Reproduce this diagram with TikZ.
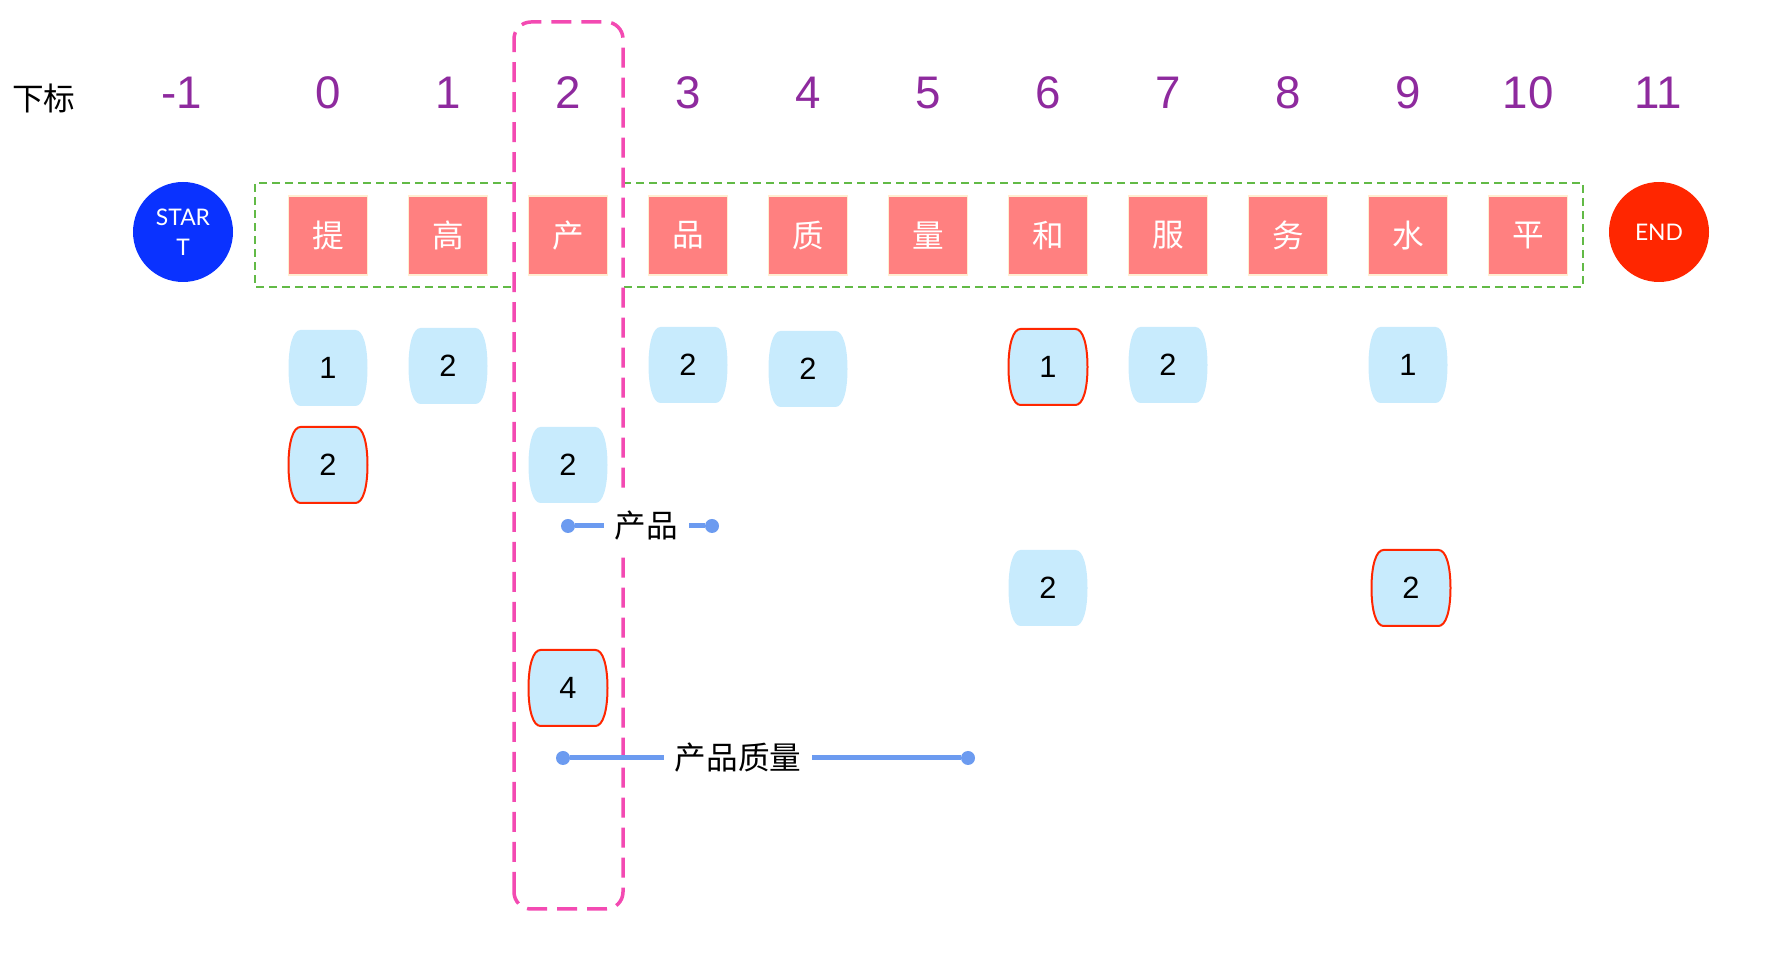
\documentclass[tikz,border=0pt]{standalone}
\usepackage{fontspec}
\setmainfont{Liberation Sans}
\newfontfamily\cjk{Noto Sans CJK SC}
\newfontfamily\lato{Lato}

\definecolor{idxpurple}{RGB}{142,42,158}
\definecolor{charred}{RGB}{255,128,128}
\definecolor{charedge}{RGB}{255,238,210}
\definecolor{startblue}{RGB}{10,50,255}
\definecolor{endred}{RGB}{255,38,0}
\definecolor{cellblue}{RGB}{200,235,253}
\definecolor{hitred}{RGB}{255,38,0}
\definecolor{groupgreen}{RGB}{98,186,70}
\definecolor{colpink}{RGB}{243,74,178}
\definecolor{barblue}{RGB}{108,155,240}

\tikzset{
  idx/.style={text=idxpurple, font=\fontsize{26}{30}\selectfont},
  charbox/.style={draw=charedge, line width=0.03cm, fill=charred, text=white,
    minimum size=1.58cm, inner sep=0pt, font=\cjk\fontsize{18}{22}\selectfont},
  terminal/.style={circle, minimum size=2cm, inner sep=0pt, text=white,
    align=center, font=\lato\fontsize{13}{17}\selectfont},
  cell/.style={minimum width=1.58cm, minimum height=1.52cm, inner sep=0pt,
    font=\fontsize{17.5}{20}\selectfont},
  hit/.style={draw=hitred, line width=0.04cm},
  groupline/.style={draw=groupgreen, line width=0.04cm, dash pattern=on 0.16cm off 0.1cm},
  colline/.style={draw=colpink, line width=0.07cm, dash pattern=on 0.4cm off 0.2cm,
    rounded corners=0.34cm},
  dot/.style={circle, fill=barblue, minimum size=0.28cm, inner sep=0pt},
  bar/.style={draw=barblue, line width=0.1cm},
  barlabel/.style={fill=white, text=black, minimum height=1.2cm, inner xsep=0.22cm,
    font=\cjk\fontsize{18}{22}\selectfont},
}

% barrel shaped length box: name, x, y, text, border
\newcommand{\lenbox}[5]{%
  \filldraw[fill=cellblue, draw=none, #5, shift={(#2,#3)}]
    (-0.55,0.76) -- (0.55,0.76)
    .. controls (0.70,0.76) and (0.79,0.45) .. (0.79,0)
    .. controls (0.79,-0.45) and (0.70,-0.76) .. (0.55,-0.76)
    -- (-0.55,-0.76)
    .. controls (-0.70,-0.76) and (-0.79,-0.45) .. (-0.79,0)
    .. controls (-0.79,0.45) and (-0.70,0.76) .. (-0.55,0.76) -- cycle;
  \node[cell] (#1) at (#2,#3) {#4};%
}

\begin{document}
\begin{tikzpicture}
  \useasboundingbox (0,0) rectangle (35.58,19.28);

  % Drawing index row
  \node[font=\cjk\fontsize{18}{22}\selectfont] (idxlabel) at (0.88,17.32) {下标};
  \node[idx] (im1) at (3.64,17.42) {-1};
  \node[idx] (i0) at (6.56,17.42) {0};
  \node[idx] (i1) at (8.96,17.42) {1};
  \node[idx] (i2) at (11.36,17.42) {2};
  \node[idx] (i3) at (13.76,17.42) {3};
  \node[idx] (i4) at (16.16,17.42) {4};
  \node[idx] (i5) at (18.56,17.42) {5};
  \node[idx] (i6) at (20.96,17.42) {6};
  \node[idx] (i7) at (23.36,17.42) {7};
  \node[idx] (i8) at (25.76,17.42) {8};
  \node[idx] (i9) at (28.16,17.42) {9};
  \node[idx] (i10) at (30.56,17.42) {10};
  \node[idx] (i11) at (33.16,17.42) {11};

  % Drawing word groups
  \draw[groupline] (10.28,15.62) -- (5.10,15.62) -- (5.10,13.54) -- (10.28,13.54);
  \draw[groupline] (12.46,15.62) -- (31.66,15.62) -- (31.66,13.54) -- (12.46,13.54);

  % Drawing current column
  \draw[colline] (10.28,1.10) rectangle (12.46,18.84);

  % Drawing characters
  \node[terminal, fill=startblue] (start) at (3.66,14.64) {STAR\\T};
  \node[charbox] (c0) at (6.56,14.57) {提};
  \node[charbox] (c1) at (8.96,14.57) {高};
  \node[charbox] (c2) at (11.36,14.57) {产};
  \node[charbox] (c3) at (13.76,14.57) {品};
  \node[charbox] (c4) at (16.16,14.57) {质};
  \node[charbox] (c5) at (18.56,14.57) {量};
  \node[charbox] (c6) at (20.96,14.57) {和};
  \node[charbox] (c7) at (23.36,14.57) {服};
  \node[charbox] (c8) at (25.76,14.57) {务};
  \node[charbox] (c9) at (28.16,14.57) {水};
  \node[charbox] (c10) at (30.56,14.57) {平};
  \node[terminal, fill=endred] (end) at (33.18,14.64) {END};

  % Drawing lengths
  \lenbox{l0a}{6.56}{11.92}{1}{}
  \lenbox{l1a}{8.96}{11.96}{2}{}
  \lenbox{l3a}{13.76}{11.98}{2}{}
  \lenbox{l4a}{16.16}{11.90}{2}{}
  \lenbox{l6a}{20.96}{11.94}{1}{hit}
  \lenbox{l7a}{23.36}{11.98}{2}{}
  \lenbox{l9a}{28.16}{11.98}{1}{}
  \lenbox{l0b}{6.56}{9.98}{2}{hit}
  \lenbox{l2b}{11.36}{9.98}{2}{}
  \lenbox{l6c}{20.96}{7.52}{2}{}
  \lenbox{l9c}{28.22}{7.52}{2}{hit}
  \lenbox{l2d}{11.36}{5.52}{4}{hit}

  % Drawing word spans
  \node[dot] (w1s) at (11.36,8.76) {};
  \node[dot] (w1e) at (14.24,8.76) {};
  \draw[bar] (w1s) -- node[barlabel, pos=0.55] (w1) {产品} (w1e);

  \node[dot] (w2s) at (11.26,4.12) {};
  \node[dot] (w2e) at (19.36,4.12) {};
  \draw[bar] (w2s) -- node[barlabel, pos=0.43] (w2) {产品质量} (w2e);
\end{tikzpicture}
\end{document}
